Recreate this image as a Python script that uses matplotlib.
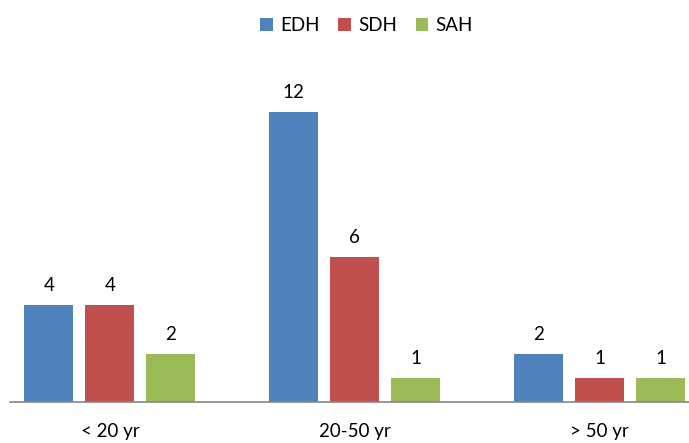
import matplotlib
matplotlib.use("Agg")
import matplotlib.pyplot as plt
import numpy as np

categories = ["< 20 yr", "20-50 yr", "> 50 yr"]
series_names = ["EDH", "SDH", "SAH"]
edh = [4, 12, 2]
sdh = [4, 6, 1]
sah = [2, 1, 1]
colors = ["#4F81BD", "#C0504D", "#9BBB59"]

plt.rcParams['font.family'] = ['Lato', 'DejaVu Sans']

fig = plt.figure(figsize=(6.89, 4.43), dpi=100)
ax = fig.add_axes([10/689, 41/443, 679/689, 342/443])

x = np.arange(len(categories))
width = 0.2
offset = 0.249
for i, (vals, name, c) in enumerate(zip([edh, sdh, sah], series_names, colors)):
    pos = x + (i - 1) * offset
    ax.bar(pos, vals, width, color=c, label=name)
    for p, v in zip(pos, vals):
        ax.text(p, v + 0.45, str(v), ha='center', va='bottom', fontsize=13.5, color='#000000')

ax.set_xlim(-0.408, 2.365)
ax.set_ylim(0, 342/24.2)
ax.set_xticks(x)
ax.set_xticklabels(categories, fontsize=13.5)
ax.tick_params(axis='x', length=0, pad=15)
ax.set_yticks([])
for s in ['top', 'right', 'left']:
    ax.spines[s].set_visible(False)
ax.spines['bottom'].set_color('#868686')
ax.spines['bottom'].set_linewidth(1.2)

fig.legend(loc='upper center', bbox_to_anchor=(0.532, 1.0), ncol=3, frameon=False,
           fontsize=13.5, handlelength=0.65, handleheight=0.65, handletextpad=0.4,
           columnspacing=1.0)

fig.savefig("out.png", dpi=100)
